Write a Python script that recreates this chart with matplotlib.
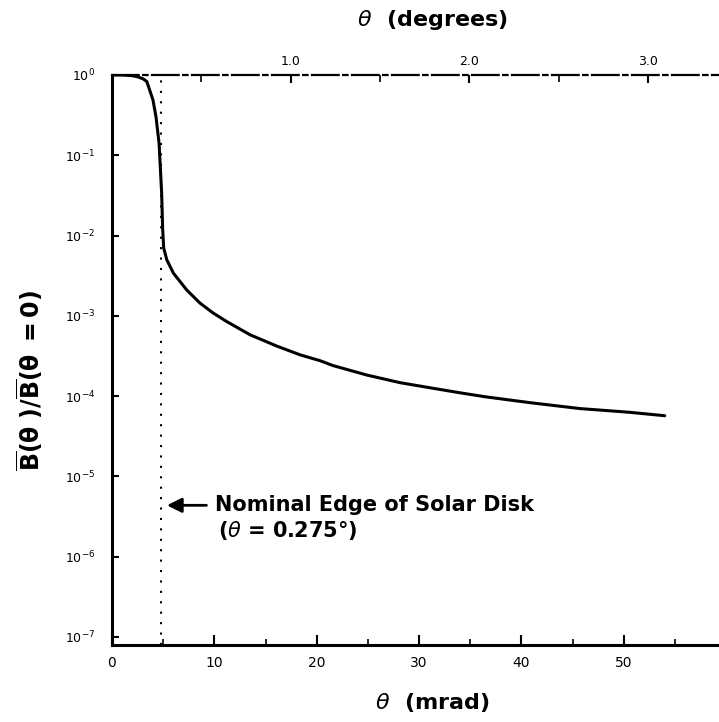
import numpy as np
import matplotlib
matplotlib.use("Agg")
import matplotlib.pyplot as plt
from matplotlib.ticker import FixedLocator, NullFormatter

# Data
theta_mrad = [0.0, 1.0, 2.0, 2.5, 3.0, 3.4, 4.0, 4.3, 4.6, 4.85, 4.95, 5.05, 5.35, 6.0,
              7.3, 8.6, 9.9, 11.2, 13.5, 16.1, 18.4, 20.3, 21.6, 24.9, 28.15, 31.4,
              34.0, 36.5, 40.8, 45.7, 50.5, 54.0]
ratio = [1.0, 1.0, 0.98, 0.95, 0.9, 0.83, 0.49, 0.30, 0.14, 0.034, 0.012, 0.007, 0.005, 0.0034,
         0.0021, 1.44e-3, 1.08e-3, 8.5e-4, 5.8e-4, 4.2e-4, 3.26e-4, 2.77e-4, 2.4e-4, 1.83e-4,
         1.47e-4, 1.25e-4, 1.1e-4, 9.8e-5, 8.3e-5, 7.0e-5, 6.3e-5, 5.7e-5]
edge_mrad = 4.8
x_ticks = [0, 10, 20, 30, 40, 50]
x_minor = [5, 15, 25, 35, 45, 55]
deg_ticks = [1.0, 2.0, 3.0]
deg_minor = [0.5, 1.5, 2.5]
y_exps = [0, -1, -2, -3, -4, -5, -6, -7]

fig = plt.figure(figsize=(7.19, 7.22), dpi=100)
ax = fig.add_axes([112/719, 1 - 645/722, 1 - 112/719, (645 - 75)/722])
ax.set_yscale('log')
ax.set_xlim(0, 59.3)
ax.set_ylim(10**-7.1, 1.0)

ax.plot(theta_mrad, ratio, color='black', lw=2.2, solid_capstyle='round',
        solid_joinstyle='round')
ax.axvline(edge_mrad, color='black', ls=(0, (1, 4)), lw=1.5)

# ticks
ax.xaxis.set_major_locator(FixedLocator(x_ticks))
ax.xaxis.set_minor_locator(FixedLocator(x_minor))
ax.set_xticklabels([str(t) for t in x_ticks], fontsize=10, family='DejaVu Sans')
ax.yaxis.set_major_locator(FixedLocator([10.0**e for e in y_exps]))
ax.yaxis.set_minor_locator(FixedLocator([]))
ax.yaxis.set_minor_formatter(NullFormatter())
ax.set_yticklabels([r'$10^{%d}$' % e for e in y_exps], fontsize=9)
ax.tick_params(axis='x', which='major', direction='in', length=7, width=1.5, pad=8)
ax.tick_params(axis='x', which='minor', direction='in', length=4, width=1.2)
ax.tick_params(axis='y', which='major', direction='in', length=5, width=1.5, pad=12)

for s in ['left', 'bottom']:
    ax.spines[s].set_linewidth(2.2)
ax.spines['top'].set_linewidth(1.6)
ax.spines['top'].set_linestyle((0, (12, 2, 2, 2)))
ax.spines['right'].set_visible(False)

# top axis in degrees
def m2d(x):
    return np.asarray(x) * 180.0 / (1000.0 * np.pi)

def d2m(d):
    return np.asarray(d) * 1000.0 * np.pi / 180.0

sec = ax.secondary_xaxis('top', functions=(m2d, d2m))
sec.xaxis.set_major_locator(FixedLocator(deg_ticks))
sec.xaxis.set_minor_locator(FixedLocator(deg_minor))
sec.set_xticklabels(['%.1f' % d for d in deg_ticks], fontsize=9)
sec.tick_params(axis='x', which='major', direction='in', length=6, width=1.5, pad=5)
sec.tick_params(axis='x', which='minor', direction='in', length=5, width=1.2)
sec.spines['top'].set_visible(False)

fig.text(432/719, 1 - 20/722, r'$\theta$  (degrees)', ha='center', va='center',
         fontsize=16, fontweight='bold', family='DejaVu Sans')
fig.text(432/719, 1 - 703/722, r'$\theta$  (mrad)', ha='center', va='center',
         fontsize=16, fontweight='bold', family='DejaVu Sans')
fig.text(30/719, 1 - 380/722, r'$\mathbf{\overline{B}(\theta\ )/\overline{B}(\theta\ =0)}$',
         rotation=90, ha='center', va='center', fontsize=17)

# annotation
ax.annotate('', xy=(5.1, 10**-5.36), xytext=(9.5, 10**-5.36),
            arrowprops=dict(arrowstyle='-|>', color='black', lw=2, mutation_scale=22))
ax.text(10.1, 10**-5.36, 'Nominal Edge of Solar Disk', ha='left', va='center',
        fontsize=15, fontweight='bold', family='DejaVu Sans')
ax.text(10.4, 10**-5.68, r'($\theta$ = 0.275°)', ha='left', va='center',
        fontsize=15, fontweight='bold', family='DejaVu Sans')

fig.savefig('out.png', dpi=100)
